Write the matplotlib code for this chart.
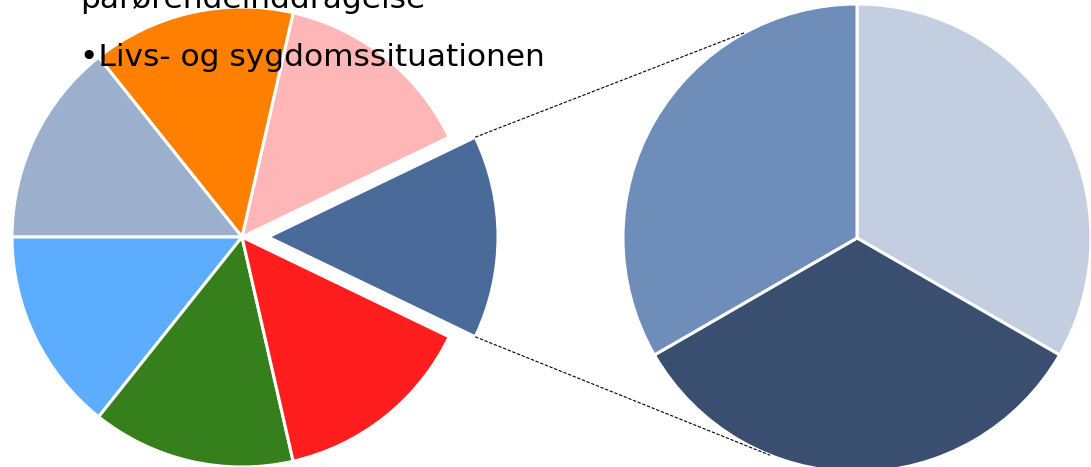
import numpy as np
import matplotlib
matplotlib.use("Agg")
import matplotlib.pyplot as plt

# ---- data ----
left_labels = ["Blå", "Lyserød", "Orange", "Gråblå", "Lyseblå", "Grøn", "Rød"]
left_values = [1, 1, 1, 1, 1, 1, 1]
left_colors = ["#4A6B9A", "#FFB6B6", "#FF8000", "#9CAFCD", "#5DADFF", "#357F1D", "#FF1D1D"]
right_labels = ["A", "B", "C"]
right_values = [1, 1, 1]
right_colors = ["#C3CEE1", "#3A4F70", "#6E8DB9"]
text_lines = ["pårørendeinddragelse", "•Livs- og sygdomssituationen"]

W, H = 1091, 467
fig = plt.figure(figsize=(W / 100, H / 100), dpi=100)
ax = fig.add_axes([0, 0, 1, 1])
ax.set_axis_off()

# left pie
lc = (242, H - 237)
lr = 230
step = 360 / len(left_values)
explode = [26] + [0] * (len(left_values) - 1)
wp = dict(edgecolor="white", linewidth=2.2)
ax.pie(left_values, colors=left_colors, startangle=-step / 2, counterclock=True,
       center=lc, radius=lr, explode=explode, wedgeprops=wp)

# right pie
rc = (857, H - 238)
rr = 234
ax.pie(right_values, colors=right_colors, startangle=90, counterclock=False,
       center=rc, radius=rr, wedgeprops=wp)

ax.set_xlim(0, W)
ax.set_ylim(0, H)
ax.set_aspect("equal")

# connector lines
ec = (lc[0] + explode[0], lc[1])
a = np.deg2rad(step / 2)
p_up = (ec[0] + lr * np.cos(a), ec[1] + lr * np.sin(a))
p_dn = (ec[0] + lr * np.cos(-a), ec[1] + lr * np.sin(-a))
t_up = np.deg2rad(118.5)
t_dn = np.deg2rad(-111.8)
q_up = (rc[0] + rr * np.cos(t_up), rc[1] + rr * np.sin(t_up))
q_dn = (rc[0] + rr * np.cos(t_dn), rc[1] + rr * np.sin(t_dn))
for p, q in [(p_up, q_up), (p_dn, q_dn)]:
    ax.plot([p[0], q[0]], [p[1], q[1]], color="black", lw=0.8, ls=(0, (3, 1.5)))

# overlay text
ax.text(80, H - 8, text_lines[0], fontsize=22.5, family="DejaVu Sans", color="black",
        va="baseline", ha="left")
ax.text(80, H - 66, text_lines[1], fontsize=22.5, family="DejaVu Sans", color="black",
        va="baseline", ha="left")

fig.savefig("out.png", dpi=100, facecolor="white")
